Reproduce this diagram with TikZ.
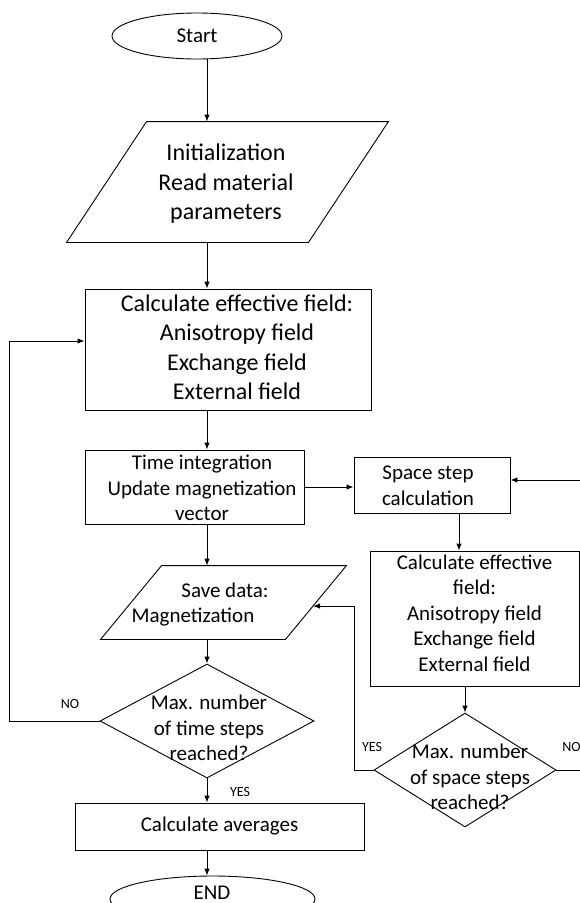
\documentclass[tikz,border=0pt]{standalone}
\usepackage{fontspec}
\setmainfont{Carlito}
\usetikzlibrary{arrows.meta,shapes.geometric,calc}
\begin{document}
\begin{tikzpicture}[x=1pt,y=-1pt,
  line width=0.9pt,
  arr/.style={-{Latex[length=7pt,width=5.5pt]}},
  shapebox/.style={draw, rectangle, inner sep=0pt},
  frame/.style={rectangle, inner sep=0pt},
  bigtxt/.style={align=center, font=\fontsize{24}{29.5}\selectfont, inner sep=0pt},
  txt/.style={align=center, font=\fontsize{21}{25.5}\selectfont, inner sep=0pt},
  lbl/.style={font=\fontsize{14}{17}\selectfont, inner sep=0pt},
]
\useasboundingbox (0,0) rectangle (580,903);
\clip (0,0) rectangle (580,903);

% start
\node[draw, ellipse, minimum width=170pt, minimum height=46pt, inner sep=0pt,
      font=\fontsize{21}{25.5}\selectfont] (start) at (197,36) {Start};

% initialization parallelogram
\node[frame, minimum width=321pt, minimum height=120pt] (p1) at (227.5,182) {};
\draw ($(p1.north west)+(80,0)$) -- (p1.north east) -- ($(p1.south east)+(-80,0)$) -- (p1.south west) -- cycle;
\node[bigtxt] (p1t) at (226,184) {Initialization\\Read material\\parameters};

% effective field box
\node[shapebox, minimum width=286pt, minimum height=121pt] (box1) at (228,349.5) {};
\node[bigtxt] (box1t) at (237,347) {Calculate effective field:\\Anisotropy field\\Exchange field\\External field};

% time integration box
\node[shapebox, minimum width=219pt, minimum height=74pt] (box2) at (194.5,487) {};
\node[txt] (box2t) at (202,488) {Time integration\\Update magnetization\\vector};

% space step box
\node[shapebox, minimum width=156pt, minimum height=56pt] (space) at (432,485) {};
\node[txt] (spacet) at (428,486) {Space step\\calculation};

% second effective field box
\node[shapebox, minimum width=209pt, minimum height=135pt] (box3) at (474.5,618.5) {};
\node[txt] (box3t) at (474.5,613) {Calculate effective\\field:\\Anisotropy field\\Exchange field\\External field};

% save data parallelogram
\node[frame, minimum width=245pt, minimum height=73pt] (save) at (223.5,602.5) {};
\draw ($(save.north west)+(61,0)$) -- (save.north east) coordinate (sNE)
      -- ($(save.south east)+(-61,0)$) coordinate (sSE) -- (save.south west) -- cycle;
\coordinate (saveR) at ($(sNE)!0.548!(sSE)$);
\node[txt] (savet1) at (225,590) {Save data:};
\node[txt] (savet2) at (193,617) {Magnetization};

% decision 1
\node[draw, diamond, minimum width=214pt, minimum height=114pt, inner sep=0pt] (dia1) at (207,721) {};
\node[txt] (dia1t) at (209,728) {Max. number\\of time steps\\reached?};

% averages
\node[shapebox, minimum width=289pt, minimum height=47pt,
      font=\fontsize{21}{25.5}\selectfont] (avg) at (219.5,826.5) {Calculate averages};

% end
\node[draw, ellipse, minimum width=205pt, minimum height=46pt, inner sep=0pt] (end) at (212.5,899) {};
\node[txt] (endt) at (212,893) {END};

% decision 2
\node[draw, diamond, minimum width=182pt, minimum height=114pt, inner sep=0pt] (dia2) at (465,770) {};
\node[txt] (dia2t) at (470,777) {Max. number\\of space steps\\reached?};

% labels
\node[lbl] (no1) at (70,704) {NO};
\node[lbl] (yes1) at (240,792) {YES};
\node[lbl] (yes2) at (372,747) {YES};
\node[lbl, anchor=west] (no2) at (562,747) {NO};

% connectors
\draw[arr] (start.south -| dia1) -- (p1.north -| dia1);
\draw[arr] (p1.south -| dia1) -- (box1.north -| dia1);
\draw[arr] (box1.south -| dia1) -- (box2.north -| dia1);
\draw[arr] (box2.south -| dia1) -- (save.north -| dia1);
\draw[arr] (save.south -| dia1) -- (dia1.north);
\draw[arr] (dia1.south) -- (avg.north -| dia1);
\draw[arr] (avg.south -| dia1) -- (end.north -| dia1);
\coordinate (noL) at (9,341);
\draw[arr] (dia1.west) -| (noL) -- (noL -| box1.west);
\draw[arr] (box2.east) -- (box2.east -| space.west);
\coordinate (sp1) at ($(space.south)+(27,0)$);
\draw[arr] (sp1) -- (sp1 |- box3.north);
\draw[arr] (box3.south -| dia2) -- (dia2.north);
\coordinate (yesL) at ($(dia2.west)+(-19,0)$);
\draw[arr] (dia2.west) -- (yesL) |- (saveR);
\coordinate (noR) at (600,770);
\coordinate (spE) at ($(space.east)+(0,-5)$);
\draw[arr] (dia2.east) -- (noR) |- (spE);
\end{tikzpicture}
\end{document}
